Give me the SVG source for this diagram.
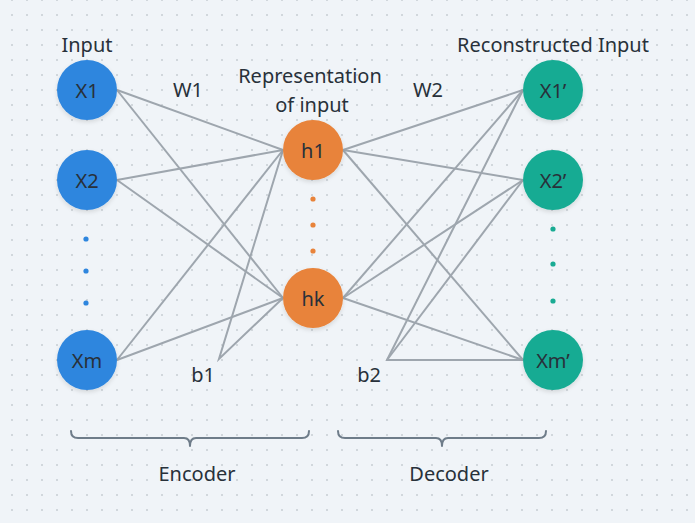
<svg xmlns="http://www.w3.org/2000/svg" width="695" height="523" viewBox="0 0 695 523">
<defs>
<pattern id="grid" x="12" y="0" width="15" height="15" patternUnits="userSpaceOnUse">
<rect x="-0.8" y="-0.8" width="1.6" height="1.6" fill="#bfc6cd"/>
<rect x="14.2" y="-0.8" width="1.6" height="1.6" fill="#bfc6cd"/>
<rect x="-0.8" y="14.2" width="1.6" height="1.6" fill="#bfc6cd"/>
<rect x="14.2" y="14.2" width="1.6" height="1.6" fill="#bfc6cd"/>
</pattern>
<filter id="sh" x="-30%" y="-30%" width="160%" height="170%">
<feDropShadow dx="0" dy="2" stdDeviation="2" flood-color="#000" flood-opacity="0.12"/>
</filter>
</defs>
<style>
text{font-family:"Noto Sans","DejaVu Sans",sans-serif;font-size:20px;fill:#28313a;text-anchor:middle}
.nl{dominant-baseline:central}
.in{fill:#2e86de}
.hid{fill:#e8833a}
.out{fill:#19ab93}
#connectors line,#connectors polyline{stroke:#9ea6ae;stroke-width:2;fill:none}
.brace{stroke:#6e7c89;stroke-width:2;fill:none;stroke-linecap:round;stroke-linejoin:round}
</style>
<rect width="695" height="523" fill="#f0f4f8"/>
<rect width="695" height="523" fill="url(#grid)"/>

<g id="connectors">
<line x1="117" y1="90" x2="283" y2="150"/>
<line x1="117" y1="90" x2="283" y2="298"/>
<line x1="117" y1="180" x2="283" y2="150"/>
<line x1="117" y1="180" x2="283" y2="298"/>
<line x1="117" y1="360" x2="283" y2="150"/>
<line x1="117" y1="360" x2="283" y2="298"/>
<polyline points="283,150 219,359 283,298"/>
<line x1="343" y1="150" x2="523" y2="90"/>
<line x1="343" y1="150" x2="523" y2="180"/>
<line x1="343" y1="150" x2="523" y2="360"/>
<line x1="343" y1="298" x2="523" y2="90"/>
<line x1="343" y1="298" x2="523" y2="180"/>
<line x1="343" y1="298" x2="523" y2="360"/>
<polyline points="523,90 387,360 523,360"/>
<line x1="387" y1="360" x2="523" y2="180"/>
</g>

<g id="label-input"><text x="87" y="52">Input</text></g>
<g id="label-representation"><text x="310" y="83">Representation</text><text x="312" y="112">of input</text></g>
<g id="label-reconstructed"><text x="553" y="52">Reconstructed Input</text></g>
<g id="label-w1"><text x="188" y="97">W1</text></g>
<g id="label-w2"><text x="428" y="97">W2</text></g>
<g id="label-b1"><text x="203" y="382">b1</text></g>
<g id="label-b2"><text x="369" y="382">b2</text></g>

<g id="node-x1"><circle class="in" cx="87" cy="90" r="30" filter="url(#sh)"/><text class="nl" x="87" y="90">X1</text></g>
<g id="node-x2"><circle class="in" cx="87" cy="180" r="30" filter="url(#sh)"/><text class="nl" x="87" y="180">X2</text></g>
<g id="node-xm"><circle class="in" cx="87" cy="360" r="30" filter="url(#sh)"/><text class="nl" x="87" y="360">Xm</text></g>
<g id="dots-input" class="in"><circle cx="86" cy="239" r="2.6"/><circle cx="86" cy="271" r="2.6"/><circle cx="86" cy="303" r="2.6"/></g>

<g id="node-h1"><circle class="hid" cx="313" cy="150" r="30" filter="url(#sh)"/><text class="nl" x="313" y="150">h1</text></g>
<g id="node-hk"><circle class="hid" cx="313" cy="298" r="30" filter="url(#sh)"/><text class="nl" x="313" y="298">hk</text></g>
<g id="dots-hidden" class="hid"><circle cx="313" cy="199" r="2.6"/><circle cx="313" cy="225" r="2.6"/><circle cx="313" cy="251" r="2.6"/></g>

<g id="node-x1p"><circle class="out" cx="553" cy="90" r="30" filter="url(#sh)"/><text class="nl" x="553" y="90">X1’</text></g>
<g id="node-x2p"><circle class="out" cx="553" cy="180" r="30" filter="url(#sh)"/><text class="nl" x="553" y="180">X2’</text></g>
<g id="node-xmp"><circle class="out" cx="553" cy="360" r="30" filter="url(#sh)"/><text class="nl" x="553" y="360">Xm’</text></g>
<g id="dots-output" class="out"><circle cx="553" cy="229" r="2.6"/><circle cx="553" cy="264" r="2.6"/><circle cx="553" cy="301" r="2.6"/></g>

<g id="encoder">
<path class="brace" d="M71,431 Q71,438 78,438 L184,438 Q190,438 190,446 Q190,438 196,438 L302,438 Q309,438 309,431"/>
<text x="197" y="481">Encoder</text>
</g>
<g id="decoder">
<path class="brace" d="M338,431 Q338,438 345,438 L436,438 Q442,438 442,446 Q442,438 448,438 L539,438 Q546,438 546,431"/>
<text x="449" y="481">Decoder</text>
</g>
</svg>
